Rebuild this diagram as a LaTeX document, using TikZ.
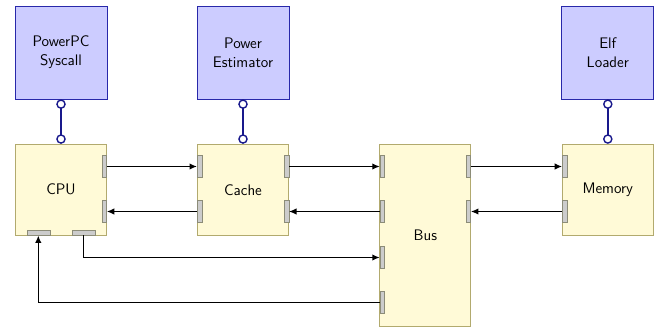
\documentclass[tikz,border=0pt]{standalone}
\usepackage{fontspec}
\usetikzlibrary{arrows.meta}
\definecolor{bluefill}{RGB}{204,204,255}
\definecolor{blueedge}{RGB}{40,40,170}
\definecolor{yelfill}{RGB}{255,250,215}
\definecolor{yeledge}{RGB}{178,170,110}
\definecolor{portfill}{RGB}{204,204,204}
\definecolor{portedge}{RGB}{140,140,120}
\definecolor{lolcol}{RGB}{25,25,140}
\begin{document}
\begin{tikzpicture}[x=1pt,y=-1pt,
  svc/.style={draw=blueedge, fill=bluefill, line width=0.8pt, minimum width=92pt, minimum height=93pt, inner sep=0pt, align=center, font=\fontsize{15.3}{19}\selectfont\sffamily},
  blk/.style={draw=yeledge, fill=yelfill, line width=0.8pt, minimum width=91pt, minimum height=91pt, inner sep=0pt, align=center, font=\fontsize{15.3}{19}\selectfont\sffamily},
  vport/.style={draw=portedge, fill=portfill, line width=0.5pt, inner sep=0pt, minimum width=4.6pt, minimum height=22pt},
  hport/.style={draw=portedge, fill=portfill, line width=0.5pt, inner sep=0pt, minimum width=23pt, minimum height=5pt},
  arr/.style={draw=black, line width=1.6pt, -{Latex[length=7.5pt,width=6.5pt]}},
  thinarr/.style={arr, line width=1.15pt},
  lol/.style={draw=lolcol, line width=1.5pt, {Circle[open,length=9.5pt,width=9.5pt,line width=1.4pt]}-{Circle[open,length=9.5pt,width=9.5pt,line width=1.4pt]}}
]
\useasboundingbox (0,0) rectangle (668,329);
% service boxes
\node[svc] (ppc) at (61,52.5) {PowerPC\\Syscall};
\node[svc] (pest) at (243,52.5) {Power\\Estimator};
\node[svc] (elf) at (607.8,52.5) {Elf\\Loader};
% blocks
\node[blk] (cpu) at (61,189.7) {CPU};
\node[blk] (cache) at (243,189.7) {Cache};
\node[blk, minimum height=182pt] (bus) at (425.3,235) {Bus};
\node[blk] (mem) at (607.8,189.7) {Memory};
% ports
\node[vport] (cpuR1) at (104.2,166.5) {};
\node[vport] (cpuR2) at (104.2,211.5) {};
\node[hport] (cpuB1) at (38.3,232.7) {};
\node[hport] (cpuB2) at (83.3,232.7) {};
\node[vport] (cacheL1) at (199.6,166.5) {};
\node[vport] (cacheL2) at (199.6,211.5) {};
\node[vport] (cacheR1) at (286.5,166.5) {};
\node[vport] (cacheR2) at (286.5,211.5) {};
\node[vport] (busL1) at (382.3,166.5) {};
\node[vport] (busL2) at (382.3,211.5) {};
\node[vport] (busL3) at (382.3,257.5) {};
\node[vport] (busL4) at (382.3,302.5) {};
\node[vport] (busR1) at (468.4,166.5) {};
\node[vport] (busR2) at (468.4,211.5) {};
\node[vport] (memL1) at (564.6,166.5) {};
\node[vport] (memL2) at (564.6,211.5) {};
% lollipops
\draw[lol] (ppc.south) -- (cpu.north);
\draw[lol] (pest.south) -- (cache.north);
\draw[lol] (elf.south) -- (mem.north);
% connectors
\draw[arr] (cpuR1.east) -- (cacheL1.west);
\draw[arr] (cacheL2.west) -- (cpuR2.east);
\draw[thinarr] (cacheR1.east) -- (busL1.west);
\draw[thinarr] (busL2.west) -- (cacheR2.east);
\draw[thinarr] (busR1.east) -- (memL1.west);
\draw[thinarr] (memL2.west) -- (busR2.east);
\draw[arr] (cpuB2.south) |- (busL3.west);
\draw[arr] (busL4.west) -| (cpuB1.south);
\end{tikzpicture}
\end{document}
